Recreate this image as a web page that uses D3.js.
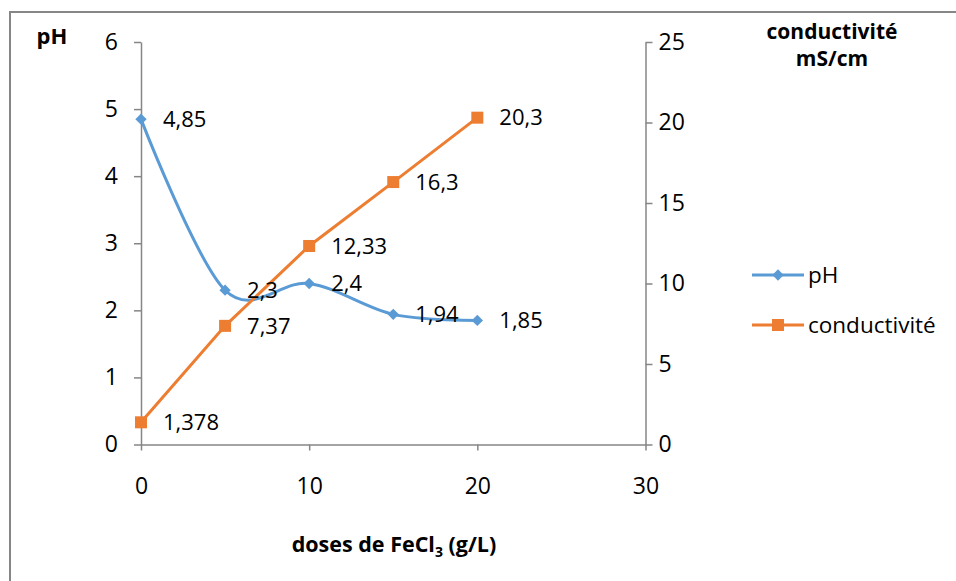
<!DOCTYPE html>
<html>
<head>
<meta charset="utf-8">
<script src="https://cdn.jsdelivr.net/npm/d3@7"></script>
<style>
  html, body { margin: 0; padding: 0; background: #fff; }
  svg { display: block; font-family: "Open Sans", Lato, sans-serif; }
</style>
</head>
<body>
<svg id="chart" width="956" height="581"></svg>
<script>
// Doses of FeCl3 (g/L) and the measured pH / conductivity
const doses = [0, 5, 10, 15, 20];
const phValues = [4.85, 2.3, 2.4, 1.94, 1.85];
const condValues = [1.378, 7.37, 12.33, 16.3, 20.3];
const phLabels = ["4,85", "2,3", "2,4", "1,94", "1,85"];
const condLabels = ["1,378", "7,37", "12,33", "16,3", "20,3"];
const xTicks = [0, 10, 20, 30];
const phTicks = [0, 1, 2, 3, 4, 5, 6];
const condTicks = [0, 5, 10, 15, 20, 25];

const svg = d3.select("#chart");
const blue = "#5B9BD5", orange = "#ED7D31", axisGrey = "#868686";
const font = "'Open Sans', Lato, sans-serif";

// outer chart frame
svg.append("rect").attr("x", 10).attr("y", 12).attr("width", 960).attr("height", 600)
  .attr("fill", "none").attr("stroke", axisGrey).attr("stroke-width", 2);

const x = d3.scaleLinear().domain([0, 30]).range([141, 645.5]);
const yPh = d3.scaleLinear().domain([0, 6]).range([444.5, 42]);
const yCond = d3.scaleLinear().domain([0, 25]).range([444.5, 42]);

function styleAxis(g) {
  g.selectAll("path, line").attr("stroke", axisGrey).attr("stroke-width", 1.5);
  g.selectAll("text").attr("font-size", 23).attr("fill", "#000").attr("font-family", font);
}

svg.append("g").attr("transform", `translate(0,${yPh(0)})`)
  .call(d3.axisBottom(x).tickValues(xTicks).tickFormat(d3.format("d"))
    .tickSize(6).tickPadding(27).tickSizeOuter(0))
  .call(styleAxis);
svg.append("g").attr("transform", `translate(${x(0)},0)`)
  .call(d3.axisLeft(yPh).tickValues(phTicks).tickFormat(d3.format("d"))
    .tickSize(7).tickPadding(16).tickSizeOuter(0))
  .call(styleAxis);
svg.append("g").attr("transform", `translate(${x(30)},0)`)
  .call(d3.axisRight(yCond).tickValues(condTicks).tickFormat(d3.format("d"))
    .tickSize(7).tickPadding(6).tickSizeOuter(0))
  .call(styleAxis);

// axis titles
svg.append("text").attr("x", 52).attr("y", 44).attr("text-anchor", "middle")
  .attr("font-size", 22).attr("font-weight", "bold").text("pH");
svg.append("text").attr("x", 832).attr("y", 39).attr("text-anchor", "middle")
  .attr("font-size", 21).attr("font-weight", "bold").text("conductivité");
svg.append("text").attr("x", 832).attr("y", 66).attr("text-anchor", "middle")
  .attr("font-size", 21).attr("font-weight", "bold").text("mS/cm");
const xt = svg.append("text").attr("x", 394).attr("y", 552).attr("text-anchor", "middle")
  .attr("font-size", 21.5).attr("font-weight", "bold");
xt.append("tspan").text("doses de FeCl");
xt.append("tspan").attr("font-size", 14).attr("dy", 5).text("3");
xt.append("tspan").attr("dy", -5).text(" (g/L)");

// series
const phPts = doses.map((d, i) => [x(d), yPh(phValues[i])]);
const condPts = doses.map((d, i) => [x(d), yCond(condValues[i])]);

svg.append("path").attr("d", d3.line().curve(d3.curveCardinal.tension(0))(phPts))
  .attr("fill", "none").attr("stroke", blue).attr("stroke-width", 3);
svg.append("path").attr("d", d3.line()(condPts))
  .attr("fill", "none").attr("stroke", orange).attr("stroke-width", 3);

svg.append("g").selectAll("path").data(phPts).join("path")
  .attr("transform", d => `translate(${d[0]},${d[1]}) rotate(45)`)
  .attr("d", d3.symbol().type(d3.symbolSquare).size(64)).attr("fill", blue);
svg.append("g").selectAll("rect").data(condPts).join("rect")
  .attr("x", d => d[0] - 6).attr("y", d => d[1] - 6).attr("width", 12).attr("height", 12)
  .attr("fill", orange);

// data labels
svg.append("g").selectAll("text").data(phPts).join("text")
  .attr("x", d => d[0] + 22).attr("y", d => d[1]).attr("dy", "0.35em")
  .attr("font-size", 22).text((d, i) => phLabels[i]);
svg.append("g").selectAll("text").data(condPts).join("text")
  .attr("x", d => d[0] + 22).attr("y", d => d[1]).attr("dy", "0.35em")
  .attr("font-size", 22).text((d, i) => condLabels[i]);

// legend
const legend = [
  { name: "pH", color: blue, y: 275, shape: "diamond" },
  { name: "conductivité", color: orange, y: 325, shape: "square" }
];
legend.forEach(l => {
  svg.append("line").attr("x1", 752).attr("x2", 804).attr("y1", l.y).attr("y2", l.y)
    .attr("stroke", l.color).attr("stroke-width", 3);
  if (l.shape === "diamond") {
    svg.append("path").attr("transform", `translate(778,${l.y}) rotate(45)`)
      .attr("d", d3.symbol().type(d3.symbolSquare).size(64)).attr("fill", l.color);
  } else {
    svg.append("rect").attr("x", 772).attr("y", l.y - 6).attr("width", 12).attr("height", 12)
      .attr("fill", l.color);
  }
  svg.append("text").attr("x", 808).attr("y", l.y).attr("dy", "0.35em")
    .attr("font-size", 22.5).text(l.name);
});
</script>
</body>
</html>
